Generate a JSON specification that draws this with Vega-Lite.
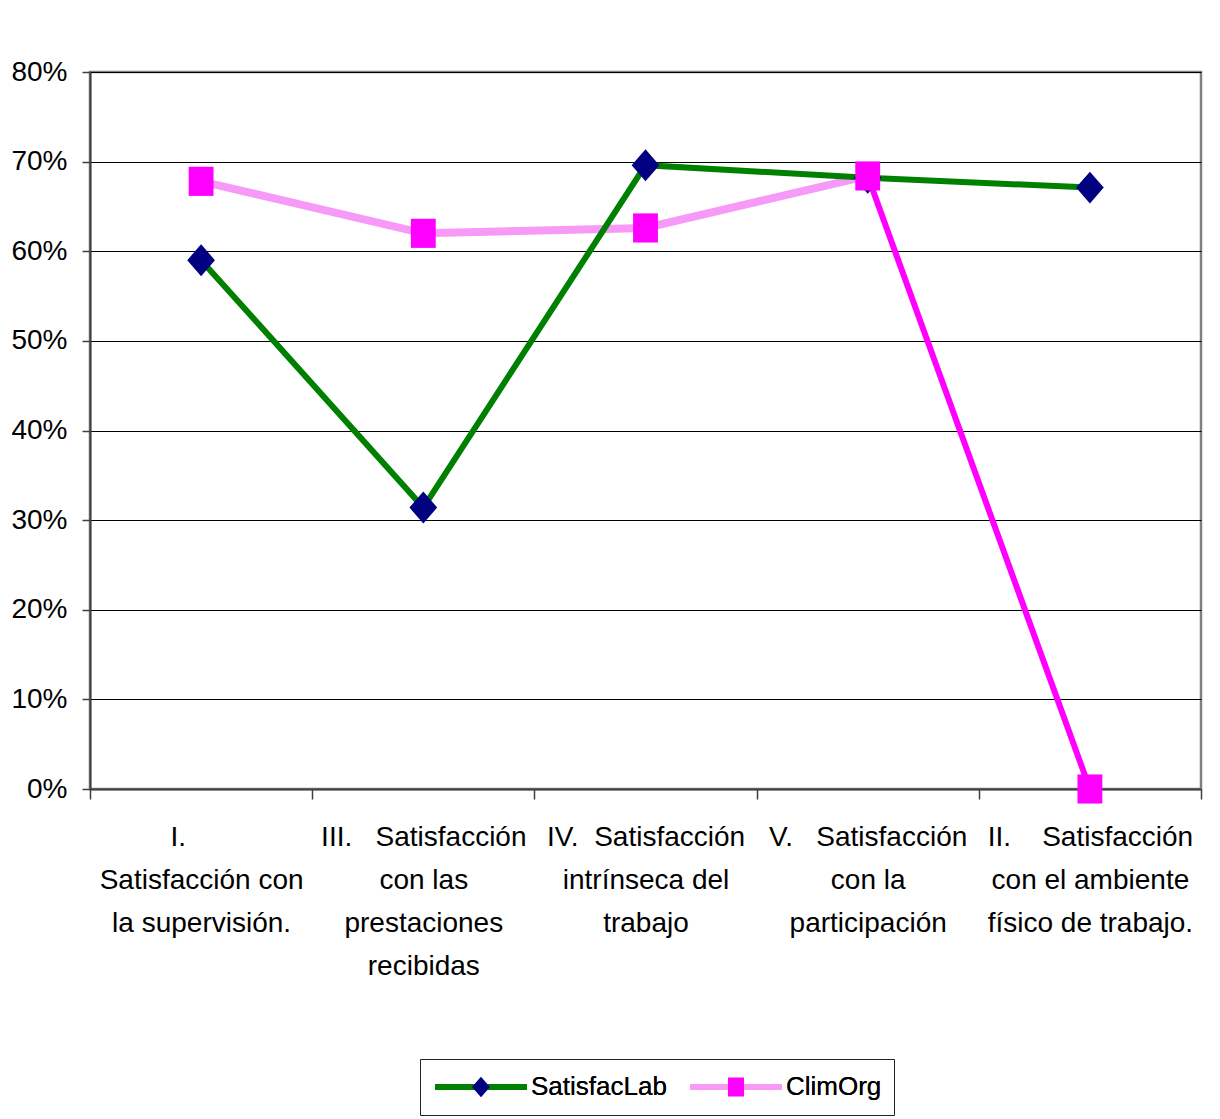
{
  "$schema": "https://vega.github.io/schema/vega-lite/v6.json",
  "width": 1111,
  "height": 717,
  "autosize": {"type": "none"},
  "padding": {"left": 90, "top": 72, "right": 19, "bottom": 330},
  "background": "white",
  "datasets": {
    "puntajes": [
      {"cat": "I. Satisfacción con la supervisión.", "serie": "SatisfacLab", "valor": 0.590},
      {"cat": "III. Satisfacción con las prestaciones recibidas", "serie": "SatisfacLab", "valor": 0.314},
      {"cat": "IV. Satisfacción intrínseca del trabajo", "serie": "SatisfacLab", "valor": 0.696},
      {"cat": "V. Satisfacción con la participación", "serie": "SatisfacLab", "valor": 0.682},
      {"cat": "II. Satisfacción con el ambiente físico de trabajo.", "serie": "SatisfacLab", "valor": 0.671},
      {"cat": "I. Satisfacción con la supervisión.", "serie": "ClimOrg", "valor": 0.678},
      {"cat": "III. Satisfacción con las prestaciones recibidas", "serie": "ClimOrg", "valor": 0.620},
      {"cat": "IV. Satisfacción intrínseca del trabajo", "serie": "ClimOrg", "valor": 0.626},
      {"cat": "V. Satisfacción con la participación", "serie": "ClimOrg", "valor": 0.684},
      {"cat": "II. Satisfacción con el ambiente físico de trabajo.", "serie": "ClimOrg", "valor": 0.0}
    ]
  },
  "data": {"name": "puntajes"},
  "encoding": {
    "x": {
      "field": "cat",
      "type": "nominal",
      "sort": [
        "I. Satisfacción con la supervisión.",
        "III. Satisfacción con las prestaciones recibidas",
        "IV. Satisfacción intrínseca del trabajo",
        "V. Satisfacción con la participación",
        "II. Satisfacción con el ambiente físico de trabajo."
      ],
      "scale": {"type": "band", "paddingInner": 0, "paddingOuter": 0},
      "axis": {
        "title": null,
        "labelAngle": 0,
        "labelFont": "Liberation Sans",
        "labelFontSize": 28,
        "labelColor": "#000000",
        "labelLineHeight": 43,
        "labelBaseline": "top",
        "labelPadding": 24,
        "labelLimit": 0,
        "labelOverlap": false,
        "tickBand": "extent",
        "tickSize": 10,
        "tickColor": "#404040",
        "tickWidth": 1.5,
        "domainColor": "#404040",
        "domainWidth": 2,
        "grid": false,
        "labelExpr": "{'I. Satisfacción con la supervisión.': ['I.\u00a0\u00a0\u00a0\u00a0\u00a0\u00a0\u200b', 'Satisfacción con', 'la supervisión.'], 'III. Satisfacción con las prestaciones recibidas': ['III.\u00a0\u00a0\u00a0Satisfacción', 'con las', 'prestaciones', 'recibidas'], 'IV. Satisfacción intrínseca del trabajo': ['IV.\u00a0\u00a0Satisfacción', 'intrínseca del', 'trabajo'], 'V. Satisfacción con la participación': ['V.\u00a0\u00a0\u00a0Satisfacción', 'con la', 'participación'], 'II. Satisfacción con el ambiente físico de trabajo.': ['II.\u00a0\u00a0\u00a0\u00a0Satisfacción', 'con el ambiente', 'físico de trabajo.']}[datum.label]"
      }
    },
    "y": {
      "field": "valor",
      "type": "quantitative",
      "scale": {"domain": [0, 0.8], "nice": false},
      "axis": {
        "title": null,
        "values": [0, 0.1, 0.2, 0.3, 0.4, 0.5, 0.6, 0.7, 0.8],
        "format": ".0%",
        "grid": true,
        "gridColor": "#000000",
        "gridWidth": 1,
        "tickSize": 8,
        "tickColor": "#404040",
        "tickWidth": 1.5,
        "domainColor": "#404040",
        "domainWidth": 2,
        "labelFont": "Liberation Sans",
        "labelFontSize": 28,
        "labelColor": "#000000",
        "labelPadding": 15
      }
    }
  },
  "layer": [
    {
      "transform": [
        {"filter": {"and": [
          {"field": "serie", "equal": "ClimOrg"},
          {"not": {"field": "cat", "equal": "II. Satisfacción con el ambiente físico de trabajo."}}
        ]}}
      ],
      "mark": {"type": "line", "strokeWidth": 8},
      "encoding": {
        "stroke": {
          "field": "serie",
          "type": "nominal",
          "sort": ["SatisfacLab", "ClimOrg"],
          "scale": {"domain": ["SatisfacLab", "ClimOrg"], "range": ["#008000", "#f79af7"]},
          "legend": {
            "title": null,
            "orient": "none",
            "legendX": 330,
            "legendY": 987,
            "direction": "horizontal",
            "symbolType": "stroke",
            "symbolSize": 8464,
            "symbolStrokeWidth": 6,
            "clipHeight": 32,
            "padding": 12,
            "labelFont": "Liberation Sans",
            "labelFontSize": 26,
            "labelColor": "#000000",
            "labelOffset": 1,
            "labelLimit": 0,
            "columnPadding": 20,
            "strokeColor": "#222222"
          }
        }
      }
    },
    {
      "transform": [
        {"filter": {"and": [
          {"field": "serie", "equal": "ClimOrg"},
          {"field": "cat", "oneOf": ["V. Satisfacción con la participación", "II. Satisfacción con el ambiente físico de trabajo."]}
        ]}}
      ],
      "mark": {"type": "line", "strokeWidth": 6, "color": "#ff00ff"},
      "encoding": {}
    },
    {
      "transform": [{"filter": {"field": "serie", "equal": "SatisfacLab"}}],
      "mark": {"type": "line", "strokeWidth": 6},
      "encoding": {
        "stroke": {
          "field": "serie",
          "type": "nominal",
          "sort": ["SatisfacLab", "ClimOrg"],
          "scale": {"domain": ["SatisfacLab", "ClimOrg"], "range": ["#008000", "#f79af7"]},
          "legend": {
            "title": null,
            "orient": "none",
            "legendX": 330,
            "legendY": 987,
            "direction": "horizontal",
            "symbolType": "stroke",
            "symbolSize": 8464,
            "symbolStrokeWidth": 6,
            "clipHeight": 32,
            "padding": 12,
            "labelFont": "Liberation Sans",
            "labelFontSize": 26,
            "labelColor": "#000000",
            "labelOffset": 1,
            "labelLimit": 0,
            "columnPadding": 20,
            "strokeColor": "#222222"
          }
        }
      }
    },
    {
      "mark": {"type": "point", "filled": true, "size": 20164, "opacity": 1, "strokeWidth": 0},
      "encoding": {
        "fill": {
          "field": "serie",
          "type": "nominal",
          "sort": ["SatisfacLab", "ClimOrg"],
          "scale": {"domain": ["SatisfacLab", "ClimOrg"], "range": ["#000080", "#ff00ff"]},
          "legend": {
            "title": null,
            "orient": "none",
            "legendX": 330,
            "legendY": 987,
            "direction": "horizontal",
            "symbolSize": 8464,
            "symbolStrokeWidth": 6,
            "symbolStrokeColor": "transparent",
            "clipHeight": 32,
            "padding": 12,
            "labelFont": "Liberation Sans",
            "labelFontSize": 26,
            "labelColor": "#000000",
            "labelOffset": 1,
            "labelLimit": 0,
            "columnPadding": 20
          }
        },
        "shape": {
          "field": "serie",
          "type": "nominal",
          "sort": ["SatisfacLab", "ClimOrg"],
          "scale": {
            "domain": ["SatisfacLab", "ClimOrg"],
            "range": ["M0,-0.225L0.195,0L0,0.225L-0.195,0Z", "M-0.175,-0.205H0.175V0.205H-0.175Z"]
          },
          "legend": {
            "title": null,
            "orient": "none",
            "legendX": 330,
            "legendY": 987,
            "direction": "horizontal",
            "symbolSize": 8464,
            "symbolStrokeWidth": 6,
            "symbolStrokeColor": "transparent",
            "clipHeight": 32,
            "padding": 12,
            "labelFont": "Liberation Sans",
            "labelFontSize": 26,
            "labelColor": "#000000",
            "labelOffset": 1,
            "labelLimit": 0,
            "columnPadding": 20
          }
        }
      }
    }
  ],
  "resolve": {"legend": {"fill": "independent", "shape": "independent"}},
  "config": {
    "view": {"stroke": "#808080", "strokeWidth": 2.5},
    "font": "Liberation Sans"
  }
}
